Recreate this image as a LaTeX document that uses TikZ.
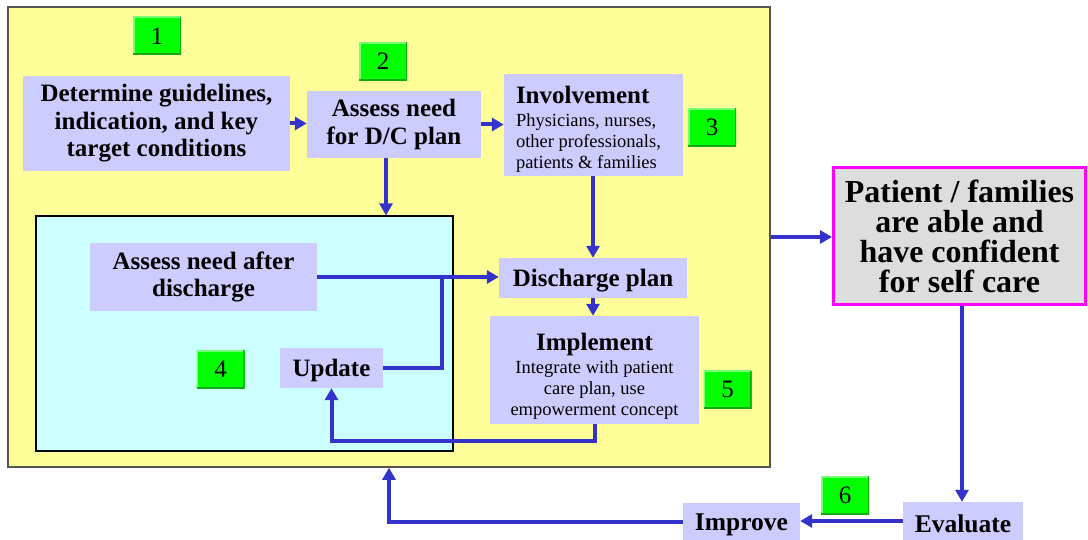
\documentclass[tikz,border=0pt]{standalone}
\usepackage{fontspec}
\setmainfont{Liberation Serif}[BoldFont={Liberation Serif Bold}]
\usetikzlibrary{arrows.meta}
\definecolor{panelyellow}{HTML}{FFFF99}
\definecolor{panelcyan}{HTML}{CCFFFF}
\definecolor{stepfill}{HTML}{CCCCFF}
\definecolor{flowblue}{HTML}{3333CC}
\definecolor{badgegreen}{HTML}{00FF00}
\definecolor{badgelight}{HTML}{77FF77}
\definecolor{badgedark}{HTML}{11AA11}
\definecolor{outcomegray}{HTML}{DDDDDD}
\definecolor{outcomeedge}{HTML}{FF00FF}
\definecolor{paneledge}{HTML}{555555}
% heading line inside a step box that also carries detail text
\newcommand{\headfont}{\bfseries\fontsize{25}{21}\selectfont}
% invisible strut that sets how much room the first text line takes
\newcommand{\topstrut}[1]{\rule{0pt}{#1}}

\begin{document}
\begin{tikzpicture}[x=1pt,y=-1pt,
  stepbox/.style={fill=stepfill, inner sep=0pt, align=center,
    font=\bfseries\fontsize{25}{27.5}\selectfont,
    execute at begin node=\topstrut{23pt}},
  detailbox/.style={stepbox, font=\mdseries\fontsize{18.5}{21}\selectfont},
  badge/.style={fill=badgegreen, inner sep=0pt,
    minimum width=48pt, minimum height=38pt, font=\fontsize{25}{27}\selectfont,
    path picture={
      \draw[badgelight, line width=3pt]
        (path picture bounding box.south west) |- (path picture bounding box.north east);
      \draw[badgedark, line width=3pt]
        (path picture bounding box.south west) -| (path picture bounding box.north east);
    }},
  flowline/.style={draw=flowblue, line width=4pt},
  flow/.style={flowline, -{Triangle[length=12pt,width=13pt]}},
]
\useasboundingbox (0,0) rectangle (1088,540);

% outer planning panel and inner follow-up panel
\node[draw=paneledge, line width=1.5pt, fill=panelyellow, inner sep=0pt,
  minimum width=762pt, minimum height=460pt] (panel) at (389,237) {};
\node[draw=black, line width=1.2pt, fill=panelcyan, inner sep=0pt,
  minimum width=417pt, minimum height=235pt] (inner) at (244.5,333.5) {};

% step badges
\node[badge] (b1) at (157,36) {1};
\node[badge] (b2) at (383,61.5) {2};
\node[badge] (b3) at (712,127.5) {3};
\node[badge] (b4) at (220.5,369.5) {4};
\node[badge] (b5) at (727.5,389.5) {5};
\node[badge] (b6) at (845,495) {6};

% process steps
\node[stepbox, minimum width=267pt, minimum height=95pt] (det) at (156.5,123.5)
  {Determine guidelines,\\indication, and key\\target conditions};
\node[stepbox, minimum width=174pt, minimum height=67pt] (assess) at (394,124.5)
  {Assess need\\for D/C plan};
\node[detailbox, minimum width=179pt, minimum height=102pt, text width=155pt,
  align=flush left] (inv) at (593.5,125)
  {{\headfont\topstrut{26pt}Involvement}\\[1.5pt]
   Physicians, nurses,\\
   other professionals,\\
   patients \& families};
\node[stepbox, minimum width=227pt, minimum height=68pt] (after) at (203.5,277)
  {Assess need after\\discharge};
\node[stepbox, minimum width=103pt, minimum height=40pt] (update) at (331.5,368)
  {Update};
\node[stepbox, minimum width=188pt, minimum height=40pt] (dplan) at (593,278)
  {Discharge plan};
\node[detailbox, minimum width=209pt, minimum height=108pt] (impl) at (594.5,370)
  {\headfont\topstrut{29pt}Implement\\[2pt]
   Integrate with patient\\
   care plan, use\\
   empowerment concept};
\node[fill=outcomegray, draw=outcomeedge, line width=3pt, inner sep=0pt, align=center,
  minimum width=252pt, minimum height=137pt,
  font=\bfseries\fontsize{32}{30}\selectfont] (outcome) at (959.5,236)
  {Patient / families\\are able and\\have confident\\for self care};
\node[stepbox, minimum width=120pt, minimum height=38pt,
  font=\bfseries\fontsize{25.5}{25}\selectfont] (eval) at (963,521) {Evaluate};
\node[stepbox, minimum width=117pt, minimum height=37pt,
  font=\bfseries\fontsize{25.5}{25}\selectfont] (improve) at (741.5,521.5) {Improve};

\coordinate (merge) at (442,277);

% connectors
\draw[flow] (det.east) -- (det.east -| assess.west);
\draw[flow] (assess.east) -- (assess.east -| inv.west);
\draw[flow] ([xshift=-8pt]assess.south) -- ([xshift=-8pt]assess.south |- inner.north);
\draw[flow] (inv.south -| dplan.north) -- (dplan.north);
\draw[flow] (after.east) -- (after.east -| dplan.west);
\draw[flowline, line join=miter] (update.east) -| (merge);
\draw[flow] (dplan.south) -- (dplan.south |- impl.north);
\draw[flow, line join=miter] (impl.south) -- ++(0,17) -| (update.south);
\draw[flow] (panel.east) -- (panel.east -| outcome.west);
\draw[flow] ([xshift=2.5pt]outcome.south) -- ([xshift=2.5pt]outcome.south |- eval.north);
\draw[flow] (eval.west) -- (eval.west -| improve.east);
\draw[flow, line join=miter] (improve.west) -| (panel.south);
\end{tikzpicture}
\end{document}
